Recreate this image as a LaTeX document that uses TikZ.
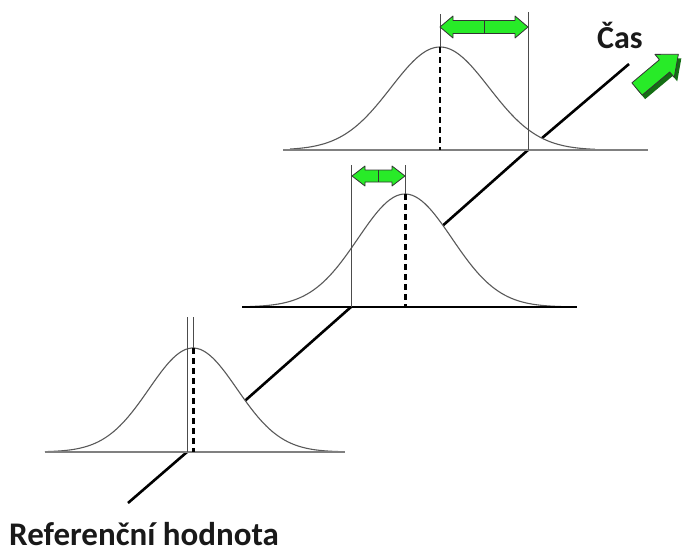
\documentclass[tikz,border=0pt]{standalone}
\usepackage{fontspec}
\setmainfont{Carlito}
\definecolor{arrowgreen}{RGB}{40,235,40}
\definecolor{arrowdark}{RGB}{20,110,20}
\newcommand{\greendbl}[5]{% x1, x2, yc, head half-height, body half-height
  \pgfmathsetmacro\gxa{#1+13}\pgfmathsetmacro\gxb{#2-13}\pgfmathsetmacro\gxm{(#1+#2)/2}
  \draw[garrow] (#1,#3) -- (\gxa,#3-#4) -- (\gxa,#3-#5) -- (\gxb,#3-#5) -- (\gxb,#3-#4) -- (#2,#3)
     -- (\gxb,#3+#4) -- (\gxb,#3+#5) -- (\gxa,#3+#5) -- (\gxa,#3+#4) -- cycle;
  \draw[black!80, line width=0.8pt] (\gxm,#3-#5) -- (\gxm,#3+#5);}
\begin{document}
\begin{tikzpicture}[x=1pt,y=-1pt,
  curve/.style={draw=black!65, line width=1.1pt},
  basegray/.style={draw=black!50, line width=1.8pt},
  baseblack/.style={draw=black, line width=1.5pt},
  thinv/.style={draw=black!70, line width=0.9pt},
  axis/.style={draw=black, line width=2.6pt},
  dashthick/.style={draw=black, line width=3pt, dash pattern=on 6pt off 4pt},
  dashthin/.style={draw=black, line width=1.4pt, dash pattern=on 6pt off 4pt},
  garrow/.style={fill=arrowgreen, draw=black!80, line width=0.8pt, line join=round},
  lbl/.style={text=black!90, inner sep=0pt}]
\useasboundingbox (0,0) rectangle (683,554);
% time axis
\coordinate (a0) at (128,503);
\coordinate (b1) at (187,452);
\coordinate (b2) at (351,307);
\coordinate (b3) at (528,150);
\coordinate (a1) at (629,64);
\draw[axis] (a0) -- (b1) -- (b2) -- (b3) -- (a1);
% bottom curve
\fill[white] plot[domain=-148:148,samples=100] ({193+\x},{452-104*exp(-0.5*(\x/44)*(\x/44))}) -- cycle;
\draw[curve] plot[domain=-148:148,samples=100] ({193+\x},{452-104*exp(-0.5*(\x/44)*(\x/44))});
% middle curve
\fill[white] plot[domain=-155:160,samples=100] ({405+\x},{307-113*exp(-0.5*(\x/47)*(\x/47))}) -- cycle;
\draw[curve] plot[domain=-155:160,samples=100] ({405+\x},{307-113*exp(-0.5*(\x/47)*(\x/47))});
% top curve
\fill[white] plot[domain=-150:155,samples=100] ({440+\x},{150-103*exp(-0.5*(\x/49)*(\x/49))}) -- cycle;
\draw[curve] plot[domain=-150:155,samples=100] ({440+\x},{150-103*exp(-0.5*(\x/49)*(\x/49))});
% baselines
\draw[basegray] (45,452) -- (345,452);
\draw[baseblack] (242,307) -- (577,307);
\draw[basegray] (283,150) -- (648,150);
% bottom verticals
\draw[thinv] (187,317) -- (b1);
\draw[thinv] (193,317) -- (193,348);
\draw[dashthick] (193,348) -- (193,452);
% middle verticals
\draw[thinv] (351,165) -- (b2);
\draw[thinv] (405,165) -- (405,194);
\draw[dashthick] (405,194) -- (405,307);
% top verticals
\draw[thinv] (528,12) -- (b3);
\draw[thinv] (440,14) -- (440,47);
\draw[dashthin] (440,47) -- (440,150);
% green double arrows
\greendbl{352}{405}{176}{10}{6}
\greendbl{440}{528}{27}{11}{6.5}
% block arrow (3D)
\begin{scope}[shift={(640,93)}, rotate=40]
  \fill[arrowdark] (0,-8) -- (36,-8) -- (36,-15) -- (54,0) -- (36,15) -- (36,8) -- (0,8) -- cycle;
\end{scope}
\begin{scope}[shift={(637,89)}, rotate=40]
  \draw[garrow] (0,-8) -- (36,-8) -- (36,-15) -- (54,0) -- (36,15) -- (36,8) -- (0,8) -- cycle;
\end{scope}
% labels
\node[lbl, font=\bfseries\fontsize{32}{32}\selectfont, anchor=base west] (cas) at (597,48) {Čas};
\node[lbl, font=\bfseries\fontsize{33}{33}\selectfont, anchor=base west] (ref) at (9,545) {Referenční hodnota};
\end{tikzpicture}
\end{document}
